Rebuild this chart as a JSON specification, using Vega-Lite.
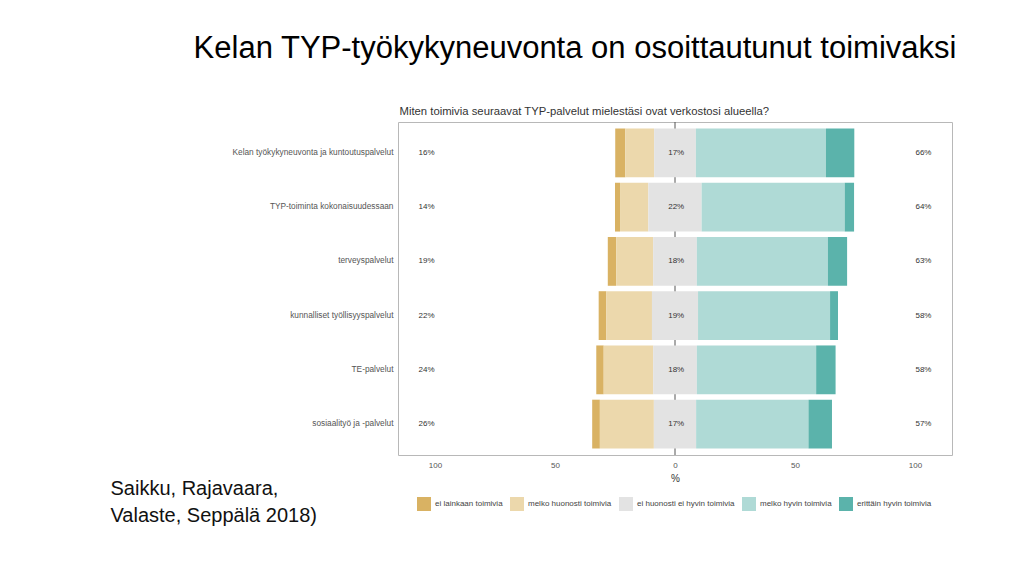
{
  "$schema": "https://vega.github.io/schema/vega-lite/v6.json",
  "width": 554,
  "height": 333,
  "autosize": {"type": "none"},
  "padding": {"left": 398, "top": 122, "right": 72, "bottom": 115},
  "background": "white",
  "config": {"view": {"stroke": "#b8b8b8", "strokeWidth": 1}, "font": "Liberation Sans"},
  "title": {
    "text": "Kelan TYP-työkykyneuvonta on osoittautunut toimivaksi",
    "anchor": "middle",
    "frame": "group",
    "dx": -100,
    "fontSize": 31,
    "fontWeight": "normal",
    "color": "#000000",
    "font": "Liberation Sans",
    "offset": 40
  },
  "datasets": {
    "bars": [
      {"item": "Kelan työkykyneuvonta ja kuntoutuspalvelut", "response": "ei lainkaan toimivia", "value": 4.2},
      {"item": "Kelan työkykyneuvonta ja kuntoutuspalvelut", "response": "melko huonosti toimivia", "value": 12.0},
      {"item": "Kelan työkykyneuvonta ja kuntoutuspalvelut", "response": "ei huonosti ei hyvin toimivia", "value": 17.4},
      {"item": "Kelan työkykyneuvonta ja kuntoutuspalvelut", "response": "melko hyvin toimivia", "value": 54.2},
      {"item": "Kelan työkykyneuvonta ja kuntoutuspalvelut", "response": "erittäin hyvin toimivia", "value": 11.8},
      {"item": "TYP-toiminta kokonaisuudessaan", "response": "ei lainkaan toimivia", "value": 2.1},
      {"item": "TYP-toiminta kokonaisuudessaan", "response": "melko huonosti toimivia", "value": 11.8},
      {"item": "TYP-toiminta kokonaisuudessaan", "response": "ei huonosti ei hyvin toimivia", "value": 22.2},
      {"item": "TYP-toiminta kokonaisuudessaan", "response": "melko hyvin toimivia", "value": 59.6},
      {"item": "TYP-toiminta kokonaisuudessaan", "response": "erittäin hyvin toimivia", "value": 3.9},
      {"item": "terveyspalvelut", "response": "ei lainkaan toimivia", "value": 3.5},
      {"item": "terveyspalvelut", "response": "melko huonosti toimivia", "value": 15.4},
      {"item": "terveyspalvelut", "response": "ei huonosti ei hyvin toimivia", "value": 18.2},
      {"item": "terveyspalvelut", "response": "melko hyvin toimivia", "value": 54.6},
      {"item": "terveyspalvelut", "response": "erittäin hyvin toimivia", "value": 8.0},
      {"item": "kunnalliset työllisyyspalvelut", "response": "ei lainkaan toimivia", "value": 3.2},
      {"item": "kunnalliset työllisyyspalvelut", "response": "melko huonosti toimivia", "value": 19.0},
      {"item": "kunnalliset työllisyyspalvelut", "response": "ei huonosti ei hyvin toimivia", "value": 19.2},
      {"item": "kunnalliset työllisyyspalvelut", "response": "melko hyvin toimivia", "value": 55.0},
      {"item": "kunnalliset työllisyyspalvelut", "response": "erittäin hyvin toimivia", "value": 3.3},
      {"item": "TE-palvelut", "response": "ei lainkaan toimivia", "value": 3.1},
      {"item": "TE-palvelut", "response": "melko huonosti toimivia", "value": 20.6},
      {"item": "TE-palvelut", "response": "ei huonosti ei hyvin toimivia", "value": 18.2},
      {"item": "TE-palvelut", "response": "melko hyvin toimivia", "value": 49.7},
      {"item": "TE-palvelut", "response": "erittäin hyvin toimivia", "value": 8.1},
      {"item": "sosiaalityö ja -palvelut", "response": "ei lainkaan toimivia", "value": 3.2},
      {"item": "sosiaalityö ja -palvelut", "response": "melko huonosti toimivia", "value": 22.5},
      {"item": "sosiaalityö ja -palvelut", "response": "ei huonosti ei hyvin toimivia", "value": 17.6},
      {"item": "sosiaalityö ja -palvelut", "response": "melko hyvin toimivia", "value": 46.8},
      {"item": "sosiaalityö ja -palvelut", "response": "erittäin hyvin toimivia", "value": 9.8}
    ],
    "labels": [
      {"item": "Kelan työkykyneuvonta ja kuntoutuspalvelut", "neg": "16%", "neu": "17%", "pos": "66%"},
      {"item": "TYP-toiminta kokonaisuudessaan", "neg": "14%", "neu": "22%", "pos": "64%"},
      {"item": "terveyspalvelut", "neg": "19%", "neu": "18%", "pos": "63%"},
      {"item": "kunnalliset työllisyyspalvelut", "neg": "22%", "neu": "19%", "pos": "58%"},
      {"item": "TE-palvelut", "neg": "24%", "neu": "18%", "pos": "58%"},
      {"item": "sosiaalityö ja -palvelut", "neg": "26%", "neu": "17%", "pos": "57%"}
    ]
  },
  "layer": [
    {
      "data": {"values": [{}]},
      "mark": {"type": "rule", "color": "#555555", "strokeWidth": 1},
      "encoding": {
        "x": {
          "datum": 0,
          "type": "quantitative",
          "axis": {
            "orient": "top",
            "labels": false,
            "ticks": false,
            "domain": false,
            "grid": false,
            "title": "Miten toimivia seuraavat TYP-palvelut mielestäsi ovat verkostosi alueella?",
            "titleAnchor": "start",
            "titleAlign": "left",
            "titleX": 1,
            "titleY": -8,
            "titleBaseline": "alphabetic",
            "titleFontSize": 11.3,
            "titleFontWeight": "normal",
            "titleColor": "#333333",
            "titleFont": "Liberation Sans"
          }
        }
      }
    },
    {
      "data": {"name": "bars"},
      "transform": [
        {"calculate": "indexof(['ei lainkaan toimivia','melko huonosti toimivia','ei huonosti ei hyvin toimivia','melko hyvin toimivia','erittäin hyvin toimivia'], datum.response)", "as": "rank"},
        {"calculate": "datum.rank < 2 ? datum.value : (datum.rank == 2 ? datum.value / 2 : 0)", "as": "leftpart"},
        {"stack": "value", "groupby": ["item"], "sort": [{"field": "rank", "order": "ascending"}], "as": ["v1", "v2"]},
        {"joinaggregate": [{"op": "sum", "field": "leftpart", "as": "offset"}], "groupby": ["item"]},
        {"calculate": "datum.v1 - datum.offset", "as": "xs"},
        {"calculate": "datum.v2 - datum.offset", "as": "xe"}
      ],
      "mark": {"type": "bar"},
      "encoding": {
        "x": {
          "field": "xs",
          "type": "quantitative",
          "scale": {"domain": [-115.4, 115.4], "nice": false, "zero": false},
          "axis": {
            "orient": "bottom",
            "values": [-100, -50, 0, 50, 100],
            "labelExpr": "format(abs(datum.value), 'd')",
            "labelFontSize": 8,
            "labelColor": "#555555",
            "labelFont": "Liberation Sans",
            "labelPadding": 6,
            "ticks": false,
            "domain": false,
            "grid": false,
            "title": "%",
            "titleFontSize": 10,
            "titleFontWeight": "normal",
            "titleColor": "#333333",
            "titleFont": "Liberation Sans",
            "titlePadding": 4
          }
        },
        "x2": {"field": "xe"},
        "y": {
          "field": "item",
          "type": "nominal",
          "sort": ["Kelan työkykyneuvonta ja kuntoutuspalvelut", "TYP-toiminta kokonaisuudessaan", "terveyspalvelut", "kunnalliset työllisyyspalvelut", "TE-palvelut", "sosiaalityö ja -palvelut"],
          "scale": {"paddingInner": 0.1, "paddingOuter": 0.12},
          "axis": {
            "title": ["Saikku, Rajavaara,", "Valaste, Seppälä 2018)"],
            "titleAngle": 0,
            "titleAlign": "left",
            "titleBaseline": "alphabetic",
            "titleX": -288,
            "titleY": 372,
            "titleFontSize": 20,
            "titleFontWeight": "normal",
            "titleColor": "#111111",
            "titleFont": "Liberation Sans",
            "titleLineHeight": 27,
            "labelFontSize": 8.3,
            "labelColor": "#555555",
            "labelFont": "Liberation Sans",
            "labelPadding": 5,
            "labelLimit": 300,
            "ticks": false,
            "domain": false,
            "grid": false
          }
        },
        "color": {
          "field": "response",
          "type": "nominal",
          "scale": {
            "domain": ["ei lainkaan toimivia", "melko huonosti toimivia", "ei huonosti ei hyvin toimivia", "melko hyvin toimivia", "erittäin hyvin toimivia"],
            "range": ["#d9b263", "#ecd8ac", "#e3e3e3", "#afdad6", "#5bb3ab"]
          },
          "legend": {
            "orient": "none",
            "legendX": 19,
            "legendY": 375,
            "direction": "horizontal",
            "columns": 5,
            "title": null,
            "symbolType": "square",
            "symbolSize": 196,
            "symbolStrokeWidth": 0,
            "symbolOpacity": 1,
            "labelFontSize": 8,
            "labelColor": "#444444",
            "labelFont": "Liberation Sans",
            "labelOffset": 4,
            "columnPadding": 7,
            "padding": 0
          }
        }
      }
    },
    {
      "data": {"name": "labels"},
      "mark": {"type": "text", "fontSize": 8, "color": "#333333", "font": "Liberation Sans"},
      "encoding": {
        "x": {"datum": -103.5, "type": "quantitative", "axis": null},
        "y": {"field": "item", "type": "nominal", "sort": ["Kelan työkykyneuvonta ja kuntoutuspalvelut", "TYP-toiminta kokonaisuudessaan", "terveyspalvelut", "kunnalliset työllisyyspalvelut", "TE-palvelut", "sosiaalityö ja -palvelut"], "axis": null},
        "text": {"field": "neg"}
      }
    },
    {
      "data": {"name": "labels"},
      "mark": {"type": "text", "fontSize": 8, "color": "#333333", "font": "Liberation Sans"},
      "encoding": {
        "x": {"datum": 0.5, "type": "quantitative", "axis": null},
        "y": {"field": "item", "type": "nominal", "sort": ["Kelan työkykyneuvonta ja kuntoutuspalvelut", "TYP-toiminta kokonaisuudessaan", "terveyspalvelut", "kunnalliset työllisyyspalvelut", "TE-palvelut", "sosiaalityö ja -palvelut"], "axis": null},
        "text": {"field": "neu"}
      }
    },
    {
      "data": {"name": "labels"},
      "mark": {"type": "text", "fontSize": 8, "color": "#333333", "font": "Liberation Sans"},
      "encoding": {
        "x": {"datum": 103.5, "type": "quantitative", "axis": null},
        "y": {"field": "item", "type": "nominal", "sort": ["Kelan työkykyneuvonta ja kuntoutuspalvelut", "TYP-toiminta kokonaisuudessaan", "terveyspalvelut", "kunnalliset työllisyyspalvelut", "TE-palvelut", "sosiaalityö ja -palvelut"], "axis": null},
        "text": {"field": "pos"}
      }
    }
  ],
  "resolve": {"axis": {"x": "independent", "y": "independent"}}
}
